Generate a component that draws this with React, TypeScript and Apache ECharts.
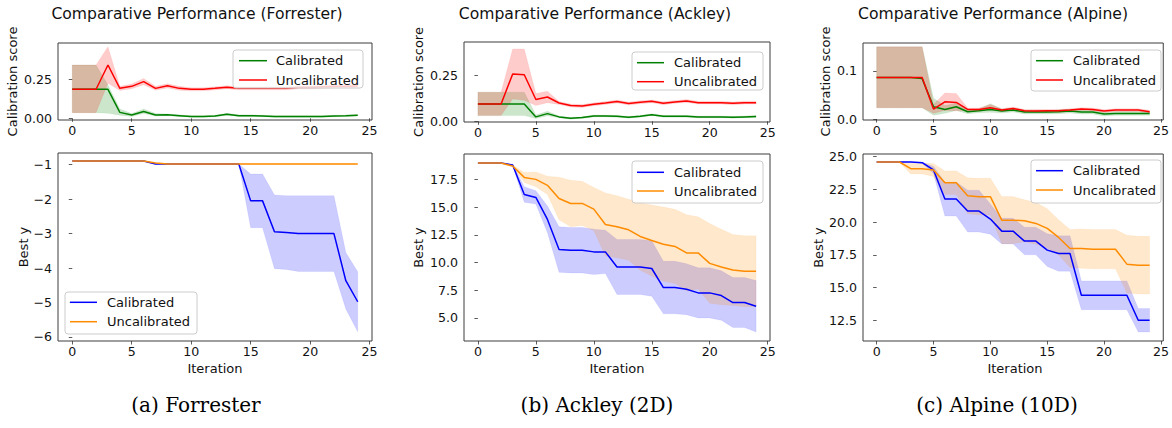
import React, { useEffect, useRef } from 'react';
import * as echarts from 'echarts';

// ---------- data ----------
const iters = [0, 1, 2, 3, 4, 5, 6, 7, 8, 9, 10, 11, 12, 13, 14, 15, 16, 17, 18, 19, 20, 21, 22, 23, 24];
const xTicks = [0, 5, 10, 15, 20, 25];

// Forrester – calibration score
const forScoreCal = [0.186, 0.186, 0.186, 0.186, 0.038, 0.021, 0.043, 0.021, 0.022, 0.017, 0.011, 0.011, 0.014, 0.026, 0.017, 0.017, 0.015, 0.011, 0.011, 0.011, 0.011, 0.012, 0.014, 0.016, 0.019];
const forScoreCalLo = [0.036, 0.036, 0.036, 0.032, 0.02, 0.012, 0.03, 0.014, 0.016, 0.012, 0.006, 0.006, 0.009, 0.02, 0.012, 0.012, 0.01, 0.006, 0.006, 0.006, 0.006, 0.007, 0.009, 0.011, 0.014];
const forScoreCalHi = [0.342, 0.342, 0.342, 0.213, 0.06, 0.03, 0.06, 0.03, 0.028, 0.022, 0.016, 0.016, 0.019, 0.032, 0.022, 0.022, 0.02, 0.016, 0.016, 0.016, 0.016, 0.017, 0.019, 0.021, 0.024];
const forScoreUnc = [0.186, 0.186, 0.186, 0.342, 0.192, 0.205, 0.235, 0.192, 0.209, 0.192, 0.186, 0.186, 0.192, 0.199, 0.192, 0.192, 0.192, 0.192, 0.192, 0.199, 0.199, 0.202, 0.205, 0.205, 0.207];
const forScoreUncLo = [0.036, 0.036, 0.036, 0.225, 0.178, 0.19, 0.215, 0.18, 0.195, 0.18, 0.176, 0.176, 0.182, 0.189, 0.182, 0.182, 0.182, 0.182, 0.182, 0.189, 0.189, 0.192, 0.195, 0.195, 0.197];
const forScoreUncHi = [0.342, 0.342, 0.342, 0.459, 0.205, 0.22, 0.255, 0.205, 0.222, 0.205, 0.196, 0.196, 0.202, 0.209, 0.202, 0.202, 0.202, 0.202, 0.202, 0.209, 0.209, 0.212, 0.215, 0.215, 0.217];

// Forrester – best y
const forBestCal = [-0.89, -0.89, -0.89, -0.89, -0.89, -0.89, -0.89, -0.98, -0.98, -0.98, -0.98, -0.98, -0.98, -0.98, -0.98, -2.05, -2.05, -2.95, -2.97, -3.0, -3.0, -3.0, -3.0, -4.37, -4.98];
const forBestCalStd = [0, 0, 0, 0, 0, 0, 0, 0, 0, 0, 0, 0, 0, 0, 0, 0.78, 0.78, 1.07, 1.07, 1.1, 1.1, 1.1, 1.1, 0.82, 0.87];
const forBestUnc = [-0.89, -0.89, -0.89, -0.89, -0.89, -0.89, -0.89, -0.95, -0.98, -0.98, -0.98, -0.98, -0.98, -0.98, -0.98, -0.98, -0.98, -0.98, -0.98, -0.98, -0.98, -0.98, -0.98, -0.98, -0.98];
const forBestUncStd = [0, 0, 0, 0, 0, 0, 0, 0.01, 0.01, 0.01, 0.01, 0.01, 0.01, 0.01, 0.01, 0.01, 0.01, 0.01, 0.01, 0.01, 0.01, 0.01, 0.01, 0.01, 0.01];

// Ackley – calibration score
const ackScoreCal = [0.095, 0.095, 0.095, 0.095, 0.095, 0.024, 0.042, 0.024, 0.016, 0.02, 0.029, 0.029, 0.027, 0.022, 0.027, 0.036, 0.027, 0.027, 0.027, 0.024, 0.024, 0.024, 0.022, 0.024, 0.026];
const ackScoreCalLo = [0.031, 0.031, 0.031, 0.031, 0.031, 0.015, 0.03, 0.019, 0.011, 0.015, 0.024, 0.024, 0.022, 0.017, 0.022, 0.031, 0.022, 0.022, 0.022, 0.019, 0.019, 0.019, 0.017, 0.019, 0.021];
const ackScoreCalHi = [0.159, 0.159, 0.159, 0.159, 0.159, 0.035, 0.055, 0.029, 0.021, 0.025, 0.034, 0.034, 0.032, 0.027, 0.032, 0.041, 0.032, 0.032, 0.032, 0.029, 0.029, 0.029, 0.027, 0.029, 0.031];
const ackScoreUnc = [0.095, 0.095, 0.095, 0.259, 0.255, 0.119, 0.133, 0.1, 0.086, 0.084, 0.093, 0.1, 0.108, 0.097, 0.104, 0.109, 0.099, 0.106, 0.111, 0.102, 0.102, 0.102, 0.098, 0.102, 0.102];
const ackScoreUncLo = [0.031, 0.031, 0.031, 0.122, 0.115, 0.086, 0.102, 0.092, 0.078, 0.076, 0.085, 0.092, 0.1, 0.089, 0.096, 0.101, 0.091, 0.098, 0.103, 0.094, 0.094, 0.094, 0.09, 0.094, 0.094];
const ackScoreUncHi = [0.159, 0.159, 0.159, 0.396, 0.396, 0.152, 0.164, 0.108, 0.094, 0.092, 0.101, 0.108, 0.116, 0.105, 0.112, 0.117, 0.107, 0.114, 0.119, 0.11, 0.11, 0.11, 0.106, 0.11, 0.11];

// Ackley – best y
const ackBestCal = [18.98, 18.98, 18.98, 18.8, 16.14, 15.87, 13.89, 11.17, 11.11, 11.11, 10.96, 10.96, 9.6, 9.6, 9.6, 9.46, 7.74, 7.74, 7.59, 7.26, 7.26, 7.02, 6.39, 6.39, 6.05];
const ackBestCalStd = [0, 0, 0, 0.05, 0.7, 0.6, 1.2, 2.05, 2.05, 2.05, 2.05, 1.96, 2.48, 2.48, 2.48, 2.5, 2.37, 2.37, 2.3, 2.26, 2.26, 2.23, 2.25, 2.25, 2.32];
const ackBestUnc = [18.98, 18.98, 18.98, 18.7, 17.68, 17.5, 16.96, 15.78, 15.33, 15.33, 14.82, 13.43, 13.22, 12.95, 12.35, 11.99, 11.65, 11.45, 10.87, 10.87, 9.92, 9.6, 9.33, 9.22, 9.22];
const ackBestUncStd = [0, 0, 0, 0.1, 0.45, 0.67, 0.82, 1.92, 2.1, 2.0, 1.95, 2.85, 2.8, 2.75, 3.05, 3.2, 3.35, 3.35, 3.45, 3.25, 3.6, 3.4, 3.2, 3.2, 3.2];

// Alpine – calibration score
const alpScoreCal = [0.0862, 0.0862, 0.0862, 0.0862, 0.084, 0.0255, 0.02, 0.0255, 0.0152, 0.017, 0.02, 0.0166, 0.0186, 0.0145, 0.0145, 0.0145, 0.0152, 0.0166, 0.0145, 0.0145, 0.0103, 0.0117, 0.0117, 0.0117, 0.0117];
const alpScoreCalLo = [0.0234, 0.0234, 0.0234, 0.0234, 0.0234, 0.008, 0.012, 0.018, 0.0112, 0.013, 0.014, 0.0126, 0.0146, 0.0105, 0.0105, 0.0105, 0.0112, 0.0126, 0.0105, 0.0105, 0.0063, 0.0077, 0.0077, 0.0077, 0.0077];
const alpScoreCalHi = [0.15, 0.15, 0.15, 0.15, 0.15, 0.043, 0.028, 0.033, 0.0192, 0.021, 0.032, 0.0206, 0.0226, 0.0185, 0.0185, 0.0185, 0.0192, 0.0206, 0.0185, 0.0185, 0.0143, 0.0157, 0.0157, 0.0157, 0.0157];
const alpScoreUnc = [0.0862, 0.0862, 0.0862, 0.0862, 0.0862, 0.0207, 0.0359, 0.0345, 0.02, 0.02, 0.0234, 0.0186, 0.022, 0.017, 0.0166, 0.017, 0.017, 0.0186, 0.0207, 0.02, 0.0166, 0.0186, 0.0186, 0.0186, 0.0152];
const alpScoreUncLo = [0.0234, 0.0234, 0.0234, 0.0234, 0.0234, 0.012, 0.018, 0.017, 0.017, 0.017, 0.02, 0.0156, 0.019, 0.014, 0.0136, 0.014, 0.014, 0.0156, 0.0177, 0.017, 0.0136, 0.0156, 0.0156, 0.0156, 0.0122];
const alpScoreUncHi = [0.15, 0.15, 0.15, 0.15, 0.15, 0.03, 0.054, 0.053, 0.023, 0.023, 0.03, 0.0216, 0.025, 0.02, 0.0196, 0.02, 0.02, 0.0216, 0.0237, 0.023, 0.0196, 0.0216, 0.0216, 0.0216, 0.0182];

// Alpine – best y
const alpBestCal = [24.59, 24.59, 24.59, 24.59, 24.54, 23.98, 21.76, 21.76, 20.84, 20.84, 20.23, 19.31, 19.31, 18.55, 18.55, 17.86, 17.6, 17.6, 14.41, 14.41, 14.41, 14.41, 14.41, 12.5, 12.5];
const alpBestCalStd = [0, 0, 0, 0, 0.05, 0.27, 1.3, 1.3, 1.6, 1.6, 1.15, 0.98, 0.98, 1.05, 1.05, 1.25, 1.35, 1.35, 1.1, 1.1, 1.1, 1.1, 1.1, 0.9, 0.9];
const alpBestUnc = [24.59, 24.59, 24.59, 24.08, 24.08, 23.98, 23.01, 23.01, 22.01, 21.94, 21.94, 20.15, 20.15, 20.1, 19.9, 19.52, 18.83, 17.98, 17.98, 17.93, 17.93, 17.93, 16.79, 16.71, 16.71];
const alpBestUncStd = [0, 0, 0, 0.4, 0.4, 0.5, 0.9, 0.9, 1.37, 1.4, 1.4, 1.8, 1.8, 1.6, 1.6, 1.5, 1.35, 1.45, 1.5, 1.5, 1.5, 1.5, 2.2, 2.2, 2.2];

const titles = ['Comparative Performance (Forrester)', 'Comparative Performance (Ackley)', 'Comparative Performance (Alpine)'];
const captions = ['(a) Forrester', '(b) Ackley (2D)', '(c) Alpine (10D)'];
const legendNames = ['Calibrated', 'Uncalibrated'];

// ---------- styling ----------
const FONT = 'DejaVu Sans';
const GREEN = '#008000';
const RED = '#ff0000';
const BLUE = '#0000ff';
const ORANGE = '#ff8c00';
const fills: Record<string, string> = {
  [GREEN]: 'rgba(0,128,0,0.2)',
  [RED]: 'rgba(255,0,0,0.2)',
  [BLUE]: 'rgba(0,0,255,0.2)',
  [ORANGE]: 'rgba(255,140,0,0.2)',
};

const lowerOf = (m: number[], s: number[]) => m.map((v, i) => v - s[i]);
const upperOf = (m: number[], s: number[]) => m.map((v, i) => v + s[i]);

const fmtMinus = (v: number) => (v < 0 ? '\u2212' + Math.abs(v) : String(v));

type SeriesSpec = { name: string; color: string; mean: number[]; lo: number[]; hi: number[] };
type Panel = {
  grid: { left: number; top: number; width: number; height: number };
  yMin: number;
  yMax: number;
  yTicks: number[];
  yFmt: (v: number) => string;
  series: SeriesSpec[];
  legend: { x: number; y: number; w: number; h: number; rows: number[]; lx1: number; lx2: number; tx: number };
};

const panels: Panel[] = [
  {
    grid: { left: 58, top: 43, width: 314, height: 77 },
    yMin: -0.011, yMax: 0.483, yTicks: [0, 0.25], yFmt: (v) => v.toFixed(2),
    series: [
      { name: 'Calibrated', color: GREEN, mean: forScoreCal, lo: forScoreCalLo, hi: forScoreCalHi },
      { name: 'Uncalibrated', color: RED, mean: forScoreUnc, lo: forScoreUncLo, hi: forScoreUncHi },
    ],
    legend: { x: 233, y: 50, w: 130, h: 38, rows: [60.7, 80], lx1: 239, lx2: 267, tx: 276 },
  },
  {
    grid: { left: 58, top: 153, width: 314, height: 188 },
    yMin: -6.12, yMax: -0.66, yTicks: [-6, -5, -4, -3, -2, -1], yFmt: fmtMinus,
    series: [
      { name: 'Calibrated', color: BLUE, mean: forBestCal, lo: lowerOf(forBestCal, forBestCalStd), hi: upperOf(forBestCal, forBestCalStd) },
      { name: 'Uncalibrated', color: ORANGE, mean: forBestUnc, lo: lowerOf(forBestUnc, forBestUncStd), hi: upperOf(forBestUnc, forBestUncStd) },
    ],
    legend: { x: 65, y: 292, w: 132, h: 42, rows: [302.3, 321.7], lx1: 70, lx2: 97, tx: 107 },
  },
  {
    grid: { left: 464, top: 42, width: 306, height: 80 },
    yMin: -0.004, yMax: 0.434, yTicks: [0, 0.25], yFmt: (v) => v.toFixed(2),
    series: [
      { name: 'Calibrated', color: GREEN, mean: ackScoreCal, lo: ackScoreCalLo, hi: ackScoreCalHi },
      { name: 'Uncalibrated', color: RED, mean: ackScoreUnc, lo: ackScoreUncLo, hi: ackScoreUncHi },
    ],
    legend: { x: 632, y: 52, w: 131, h: 38, rows: [62.7, 81.7], lx1: 637, lx2: 664, tx: 674 },
  },
  {
    grid: { left: 464, top: 154, width: 306, height: 187 },
    yMin: 2.92, yMax: 19.79, yTicks: [5, 7.5, 10, 12.5, 15, 17.5], yFmt: (v) => v.toFixed(1),
    series: [
      { name: 'Calibrated', color: BLUE, mean: ackBestCal, lo: lowerOf(ackBestCal, ackBestCalStd), hi: upperOf(ackBestCal, ackBestCalStd) },
      { name: 'Uncalibrated', color: ORANGE, mean: ackBestUnc, lo: lowerOf(ackBestUnc, ackBestUncStd), hi: upperOf(ackBestUnc, ackBestUncStd) },
    ],
    legend: { x: 632, y: 161, w: 131, h: 42, rows: [172.3, 191], lx1: 637, lx2: 664, tx: 674 },
  },
  {
    grid: { left: 863, top: 43, width: 304, height: 77 },
    yMin: -0.002, yMax: 0.158, yTicks: [0, 0.1], yFmt: (v) => v.toFixed(1),
    series: [
      { name: 'Calibrated', color: GREEN, mean: alpScoreCal, lo: alpScoreCalLo, hi: alpScoreCalHi },
      { name: 'Uncalibrated', color: RED, mean: alpScoreUnc, lo: alpScoreUncLo, hi: alpScoreUncHi },
    ],
    legend: { x: 1031, y: 50, w: 130, h: 41, rows: [60.7, 80], lx1: 1036, lx2: 1063, tx: 1073 },
  },
  {
    grid: { left: 863, top: 154, width: 304, height: 187 },
    yMin: 10.92, yMax: 25.2, yTicks: [12.5, 15, 17.5, 20, 22.5, 25], yFmt: (v) => v.toFixed(1),
    series: [
      { name: 'Calibrated', color: BLUE, mean: alpBestCal, lo: lowerOf(alpBestCal, alpBestCalStd), hi: upperOf(alpBestCal, alpBestCalStd) },
      { name: 'Uncalibrated', color: ORANGE, mean: alpBestUnc, lo: lowerOf(alpBestUnc, alpBestUncStd), hi: upperOf(alpBestUnc, alpBestUncStd) },
    ],
    legend: { x: 1031, y: 160, w: 130, h: 43, rows: [170.7, 190], lx1: 1036, lx2: 1063, tx: 1073 },
  },
];

const titleX = [197, 595, 993];
const captionX = [196, 597, 997];
const scoreLabelX = [12, 418, 825];
const bestLabelX = [23, 418, 818];

function bandSeries(idx: number, lo: number[], hi: number[], color: string) {
  return {
    type: 'custom',
    xAxisIndex: idx,
    yAxisIndex: idx,
    z: 1,
    silent: true,
    clip: true,
    data: iters.map((x, i) => [x, lo[i], hi[i]]),
    encode: { x: 0, y: [1, 2] },
    renderItem: (params: any, api: any) => {
      if (params.dataIndex !== 0) return null;
      const pts: number[][] = [];
      for (let i = 0; i < iters.length; i++) pts.push(api.coord([iters[i], hi[i]]));
      for (let i = iters.length - 1; i >= 0; i--) pts.push(api.coord([iters[i], lo[i]]));
      return { type: 'polygon', shape: { points: pts }, style: { fill: fills[color], stroke: fills[color], lineWidth: 0.3 } };
    },
  };
}

function buildOption() {
  const grids: any[] = [];
  const xAxes: any[] = [];
  const yAxes: any[] = [];
  const series: any[] = [];
  const graphics: any[] = [];

  panels.forEach((p, idx) => {
    grids.push({ ...p.grid, show: true, borderColor: '#3d3d3d', borderWidth: 1, backgroundColor: 'transparent', containLabel: false });
    xAxes.push({
      type: 'value', gridIndex: idx, min: -1.2, max: 25.2,
      axisLine: { show: false },
      splitLine: { show: false },
      axisTick: { show: true, inside: false, length: 3.5, customValues: xTicks, lineStyle: { color: '#333', width: 0.8 } },
      axisLabel: { customValues: xTicks, margin: 4, fontFamily: FONT, fontSize: 12.6, color: '#111' },
    });
    yAxes.push({
      type: 'value', gridIndex: idx, min: p.yMin, max: p.yMax,
      axisLine: { show: false },
      splitLine: { show: false },
      axisTick: { show: true, inside: false, length: 3.5, customValues: p.yTicks, lineStyle: { color: '#333', width: 0.8 } },
      axisLabel: { customValues: p.yTicks, margin: 6, fontFamily: FONT, fontSize: 12.6, color: '#111', formatter: p.yFmt },
    });
    p.series.forEach((s) => series.push(bandSeries(idx, s.lo, s.hi, s.color)));
    p.series.forEach((s) =>
      series.push({
        type: 'line', name: s.name, xAxisIndex: idx, yAxisIndex: idx, z: 3,
        data: iters.map((x, i) => [x, s.mean[i]]),
        showSymbol: false, symbol: 'none', silent: true,
        lineStyle: { color: s.color, width: 1.5 },
      })
    );

    // legend
    const L = p.legend;
    graphics.push({
      type: 'rect', shape: { x: L.x, y: L.y, width: L.w, height: L.h, r: 3 },
      style: { fill: 'rgba(255,255,255,0.8)', stroke: '#cccccc', lineWidth: 1 }, z: 100,
    });
    p.series.forEach((s, k) => {
      graphics.push({ type: 'line', shape: { x1: L.lx1, y1: L.rows[k], x2: L.lx2, y2: L.rows[k] }, style: { stroke: s.color, lineWidth: 1.5 }, z: 101 });
      graphics.push({
        type: 'text', x: L.tx, y: L.rows[k], z: 101,
        style: { text: legendNames[k], fill: '#111', font: `13px "${FONT}"`, textAlign: 'left', textVerticalAlign: 'middle' },
      });
    });

    // axis names
    const col = Math.floor(idx / 2);
    const isTop = idx % 2 === 0;
    const g = p.grid;
    graphics.push({
      type: 'text',
      x: isTop ? scoreLabelX[col] : bestLabelX[col],
      y: g.top + g.height / 2,
      rotation: Math.PI / 2,
      style: { text: isTop ? 'Calibration score' : 'Best y', fill: '#111', font: `13px "${FONT}"`, textAlign: 'center', textVerticalAlign: 'middle' },
    });
    if (!isTop) {
      graphics.push({
        type: 'text', x: g.left + g.width / 2, y: 368,
        style: { text: 'Iteration', fill: '#111', font: `13px "${FONT}"`, textAlign: 'center', textVerticalAlign: 'middle' },
      });
    }
  });

  titles.forEach((t, c) => {
    graphics.push({
      type: 'text', x: titleX[c], y: 14,
      style: { text: t, fill: '#111', font: `15.6px "${FONT}"`, textAlign: 'center', textVerticalAlign: 'middle' },
    });
  });
  captions.forEach((t, c) => {
    graphics.push({
      type: 'text', x: captionX[c], y: 405,
      style: { text: t, fill: '#000', font: `20px "DejaVu Serif"`, textAlign: 'center', textVerticalAlign: 'middle' },
    });
  });

  return {
    animation: false,
    backgroundColor: '#ffffff',
    textStyle: { fontFamily: FONT },
    grid: grids,
    xAxis: xAxes,
    yAxis: yAxes,
    series,
    graphic: graphics,
  };
}

export default function App() {
  const ref = useRef<HTMLDivElement>(null);
  useEffect(() => {
    if (!ref.current) return;
    const chart = echarts.init(ref.current, null, { renderer: 'svg' });
    chart.setOption(buildOption() as any);
    return () => chart.dispose();
  }, []);
  return (
    <div
      ref={ref}
      style={{ position: 'fixed', left: 0, top: 0, width: 1172, height: 428, background: '#fff' }}
    />
  );
}
